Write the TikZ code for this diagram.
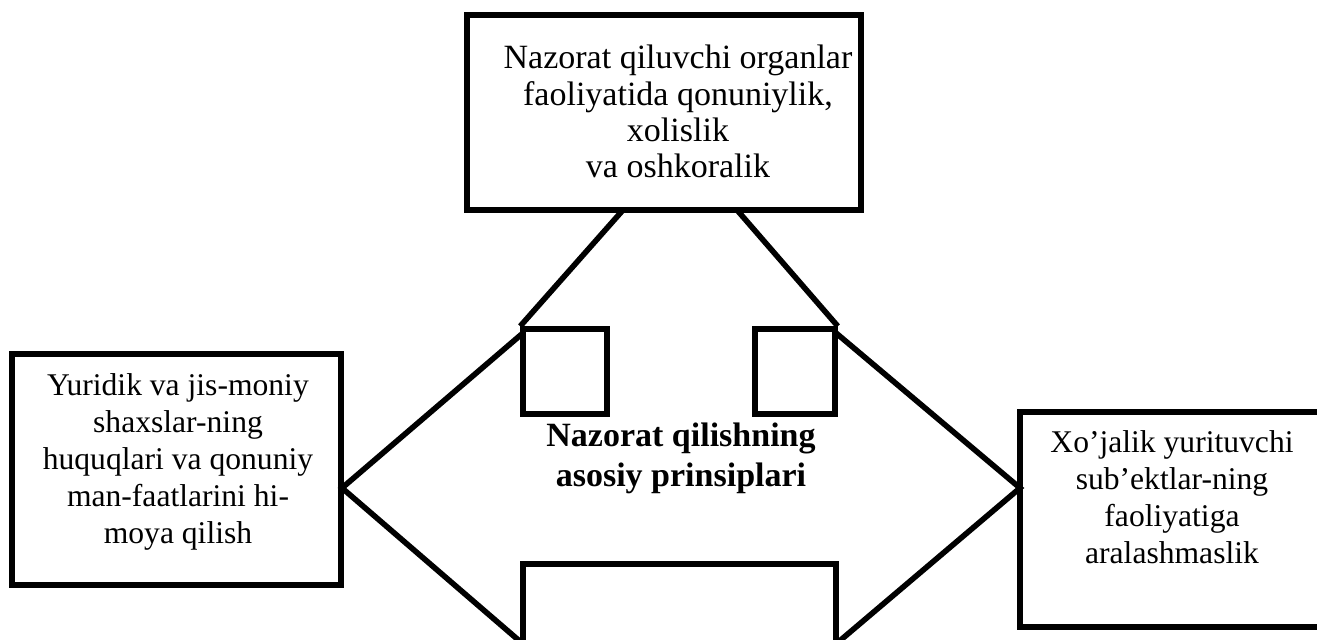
\documentclass[tikz,border=0pt]{standalone}
\usepackage{fontspec}
\setmainfont{Liberation Serif}
\usetikzlibrary{fit}
\begin{document}
\begin{tikzpicture}[x=0.5pt,y=-0.5pt,
  thick line/.style={line width=2.8pt, line join=miter},
  box/.style={draw, thick line, inner sep=0pt},
  lbl/.style={anchor=base, inner sep=0pt, font=\fontsize{17}{18.1}\selectfont},
  sidelbl/.style={anchor=base, inner sep=0pt, font=\fontsize{15.8}{18.4}\selectfont},
  boldlbl/.style={anchor=base, inner sep=0pt, font=\fontsize{17}{20}\selectfont\bfseries}]
\useasboundingbox (0,0) rectangle (1317,640);
\clip (0,0) rectangle (1317,640);

% corner points of the four-way arrow
\coordinate (ltip) at (342,488);
\coordinate (rtip) at (1020,488);
\coordinate (lup) at (523,333);
\coordinate (rup) at (836,333);
\coordinate (llow) at (523,644);
\coordinate (rlow) at (836,644);
\coordinate (nl) at (523,564);
\coordinate (nr) at (836,564);

% boxes
\node[box, fit={(467,15) (861,210)}] (topbox) {};
\node[box, fit={(12,354) (341,585)}] (leftbox) {};
\node[box, fit={(1020,412) (1330,627)}] (rightbox) {};
\node[box, fit={(523,329) (607,414)}] (sqleft) {};
\node[box, fit={(755,329) (835,414)}] (sqright) {};

% upward head meeting the top box
\coordinate (tl) at (623,210);
\coordinate (tr) at (737,210);
\draw[thick line] (tl) -- (sqleft.north west);
\draw[thick line] (tr) -- (sqright.north east);

% left/right heads and the lower shaft
\draw[thick line] (lup) -- (ltip) -- (llow) -- (nl) -- (nr) -- (rlow) -- (rtip) -- (rup);

% texts
\node[lbl] (toptext) at (678,69) {\begin{tabular}[t]{@{}c@{}}Nazorat qiluvchi organlar\\ faoliyatida qonuniylik,\\ xolislik\\ va oshkoralik\end{tabular}};
\node[sidelbl] (lefttext) at (178,396) {\begin{tabular}[t]{@{}c@{}}Yuridik va jis-moniy\\ shaxslar-ning\\ huquqlari va qonuniy\\ man-faatlarini hi-\\ moya qilish\end{tabular}};
\node[sidelbl] (righttext) at (1172,453) {\begin{tabular}[t]{@{}c@{}}Xo’jalik yurituvchi\\ sub’ektlar-ning\\ faoliyatiga\\ aralashmaslik\end{tabular}};
\node[boldlbl] (centertext) at (681,447) {\begin{tabular}[t]{@{}c@{}}Nazorat qilishning\\ asosiy prinsiplari\end{tabular}};
\end{tikzpicture}
\end{document}
